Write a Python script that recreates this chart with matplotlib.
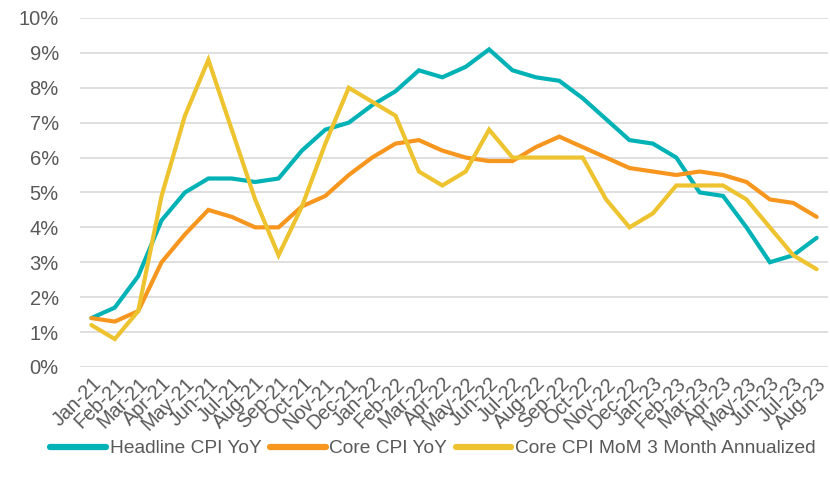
import matplotlib
matplotlib.use("Agg")
import matplotlib.pyplot as plt
from matplotlib.ticker import FuncFormatter

plt.rcParams['font.family'] = ['Liberation Sans', 'DejaVu Sans']

months = ["Jan-21", "Feb-21", "Mar-21", "Apr-21", "May-21", "Jun-21", "Jul-21", "Aug-21",
          "Sep-21", "Oct-21", "Nov-21", "Dec-21", "Jan-22", "Feb-22", "Mar-22", "Apr-22",
          "May-22", "Jun-22", "Jul-22", "Aug-22", "Sep-22", "Oct-22", "Nov-22", "Dec-22",
          "Jan-23", "Feb-23", "Mar-23", "Apr-23", "May-23", "Jun-23", "Jul-23", "Aug-23"]

headline_yoy = [1.4, 1.7, 2.6, 4.2, 5.0, 5.4, 5.4, 5.3, 5.4, 6.2, 6.8, 7.0,
                7.5, 7.9, 8.5, 8.3, 8.6, 9.1, 8.5, 8.3, 8.2, 7.7, 7.1, 6.5,
                6.4, 6.0, 5.0, 4.9, 4.0, 3.0, 3.2, 3.7]
core_yoy = [1.4, 1.3, 1.6, 3.0, 3.8, 4.5, 4.3, 4.0, 4.0, 4.6, 4.9, 5.5,
            6.0, 6.4, 6.5, 6.2, 6.0, 5.9, 5.9, 6.3, 6.6, 6.3, 6.0, 5.7,
            5.6, 5.5, 5.6, 5.5, 5.3, 4.8, 4.7, 4.3]
core_mom_3m = [1.2, 0.8, 1.6, 4.9, 7.2, 8.8, 6.8, 4.8, 3.2, 4.6, 6.4, 8.0,
               7.6, 7.2, 5.6, 5.2, 5.6, 6.8, 6.0, 6.0, 6.0, 6.0, 4.8, 4.0,
               4.4, 5.2, 5.2, 5.2, 4.8, 4.0, 3.2, 2.8]

labels = ["Headline CPI YoY", "Core CPI YoY", "Core CPI MoM 3 Month Annualized"]
colors = ["#00B2B6", "#F7961E", "#EEC330"]
txt = "#595959"

fig = plt.figure(figsize=(8.3, 4.86), dpi=100)
ax = fig.add_axes([0.096, 0.245, 0.902, 0.718])

x = list(range(len(months)))
for series, lab, col in zip([headline_yoy, core_yoy, core_mom_3m], labels, colors):
    ax.plot(x, series, color=col, lw=3.0, label=lab, solid_joinstyle="miter",
            solid_capstyle="round")

ax.set_xlim(-0.5, len(months) - 0.5)
ax.set_ylim(0, 10)
ax.set_yticks(range(0, 11))
ax.yaxis.set_major_formatter(FuncFormatter(lambda v, p: f"{int(v)}%"))
ax.grid(axis="y", color="#D9D9D9", lw=1.2)
ax.set_axisbelow(True)
for s in ax.spines.values():
    s.set_visible(False)

ax.set_xticks(x)
ax.set_xticklabels(months, rotation=45, ha="right", va="top", rotation_mode="anchor")
ax.tick_params(axis="x", length=0, pad=5, labelsize=14.2, labelcolor=txt)
ax.tick_params(axis="y", length=0, pad=15, labelsize=14.5, labelcolor=txt)

leg = ax.legend(loc="upper center", bbox_to_anchor=(0.472, -0.16), ncol=3, frameon=False,
                fontsize=13.8, handlelength=2.9, handletextpad=0.2, columnspacing=0.45,
                labelcolor=txt)
for h in leg.get_lines():
    h.set_linewidth(4.5)

fig.savefig("out.png", dpi=100)
